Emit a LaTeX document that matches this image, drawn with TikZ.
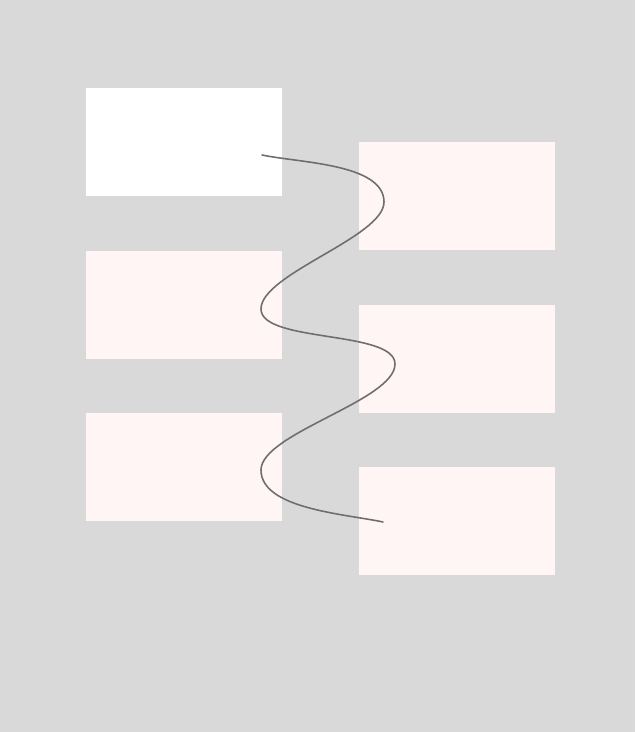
\documentclass[tikz,border=0pt]{standalone}
\usetikzlibrary{positioning}
\definecolor{canvasgray}{HTML}{D9D9D9}
\definecolor{cardfill}{HTML}{FFF5F5}
\definecolor{wirecol}{HTML}{6E6E6E}
\tikzset{
  card/.style={
    inner sep=0pt,
    minimum width=3.92cm,
    minimum height=2.16cm,
    fill=cardfill
  },
  topcard/.style={card, fill=white},
  wire/.style={draw=wirecol, line width=0.9pt, line cap=round}
}
\begin{document}
\begin{tikzpicture}[x=0.02cm, y=0.02cm, node distance=1.08cm]

  \fill[canvasgray] (0,0) rectangle (635,732);
  \useasboundingbox (0,0) rectangle (635,732);

  \node[topcard] (lone) at (184,590) {};
  \node[card, below=of lone] (ltwo) {};
  \node[card, below=of ltwo] (lthree) {};

  \node[card] (rone) at (457,536) {};
  \node[card, below=of rone] (rtwo) {};
  \node[card, below=of rtwo] (rthree) {};

  \coordinate (start) at (262,577);
  \coordinate (bendA) at (384,530);
  \coordinate (bendB) at (261,423);
  \coordinate (bendC) at (395,368);
  \coordinate (bendD) at (261,262);
  \coordinate (stop) at (383,210);

  \draw[wire] (start) to[out=-12, in=90, looseness=0.75] (bendA)
    to[out=-90, in=90, looseness=0.55] (bendB)
    to[out=-90, in=90, looseness=0.6] (bendC)
    to[out=-90, in=90, looseness=0.55] (bendD)
    to[out=-90, in=168, looseness=0.75] (stop);

\end{tikzpicture}
\end{document}
